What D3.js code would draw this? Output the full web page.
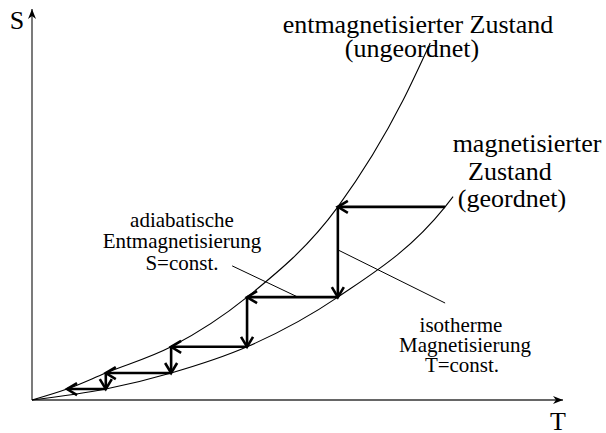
<!DOCTYPE html>
<html>
<head>
<meta charset="utf-8">
<script src="https://cdn.jsdelivr.net/npm/d3@7"></script>
<style>
  body { margin: 0; background: #fff; }
  text { font-family: "Liberation Serif", "Times New Roman", serif; fill: #000; }
</style>
</head>
<body>
<div id="chart"></div>
<script>
// Kurven (T, S in willkürlichen Einheiten 0..100)
var upperCurveT = [0, 6.6, 13.9, 26.2, 40.5, 57.6, 69.9, 75.0];
var upperCurveS = [0, 2.8, 6.9, 13.6, 26.3, 49.4, 76.7, 91.3];
var lowerCurveT = [0, 13.9, 26.2, 40.5, 57.6, 77.8, 79.3];
var lowerCurveS = [0, 2.8, 6.9, 13.6, 26.3, 49.4, 52.0];

// Treppenstufen: S-Niveaus, T am oberen Ende jeder Stufe, Start-T
var stepS = [49.4, 26.3, 13.6, 6.9, 2.8];
var stepUpperT = [57.6, 40.5, 26.2, 13.9, 6.6];
var stepStartT = 77.8;

// Beschriftungen
var labelUpper = ["entmagnetisierter Zustand", "(ungeordnet)"];
var labelLower = ["magnetisierter", "Zustand", "(geordnet)"];
var labelAdiabat = ["adiabatische", "Entmagnetisierung", "S=const."];
var labelIsotherm = ["isotherme", "Magnetisierung", "T=const."];

var width = 606, height = 433;

var svg = d3.select("#chart")
  .append("svg")
  .attr("width", width)
  .attr("height", height);

var x = d3.scaleLinear().domain([0, 100]).range([32, 563]);
var y = d3.scaleLinear().domain([0, 100]).range([400, 9]);

var defs = svg.append("defs");

defs.append("marker")
  .attr("id", "axisHead")
  .attr("viewBox", "-12 -6 14 12")
  .attr("refX", 0)
  .attr("refY", 0)
  .attr("markerWidth", 14)
  .attr("markerHeight", 12)
  .attr("markerUnits", "userSpaceOnUse")
  .attr("orient", "auto")
  .append("path")
  .attr("d", "M0,0 L-10,-4 L-7,0 L-10,4 Z")
  .attr("fill", "#000");

defs.append("marker")
  .attr("id", "stepHead")
  .attr("viewBox", "-14 -9 18 18")
  .attr("refX", 0)
  .attr("refY", 0)
  .attr("markerWidth", 18)
  .attr("markerHeight", 18)
  .attr("markerUnits", "userSpaceOnUse")
  .attr("orient", "auto")
  .append("path")
  .attr("d", "M-10,-6 L0,0 L-10,6")
  .attr("fill", "none")
  .attr("stroke", "#000")
  .attr("stroke-width", 2.6);

// Achsen
svg.append("line")
  .attr("x1", x(0)).attr("y1", y(0))
  .attr("x2", x(100)).attr("y2", y(0))
  .attr("stroke", "#333")
  .attr("stroke-width", 1.3)
  .attr("marker-end", "url(#axisHead)");

svg.append("line")
  .attr("x1", x(0)).attr("y1", y(0))
  .attr("x2", x(0)).attr("y2", y(100))
  .attr("stroke", "#333")
  .attr("stroke-width", 1.3)
  .attr("marker-end", "url(#axisHead)");

svg.append("text")
  .attr("x", 17).attr("y", 29)
  .attr("text-anchor", "middle")
  .attr("font-size", "26px")
  .text("S");

svg.append("text")
  .attr("x", 558).attr("y", 430)
  .attr("text-anchor", "middle")
  .attr("font-size", "26px")
  .text("T");

// Kurven
var line = d3.line()
  .x(function(d) { return x(d[0]); })
  .y(function(d) { return y(d[1]); })
  .curve(d3.curveMonotoneX);

svg.append("path")
  .datum(d3.zip(upperCurveT, upperCurveS))
  .attr("d", line)
  .attr("fill", "none")
  .attr("stroke", "#000")
  .attr("stroke-width", 1.1);

svg.append("path")
  .datum(d3.zip(lowerCurveT, lowerCurveS))
  .attr("d", line)
  .attr("fill", "none")
  .attr("stroke", "#000")
  .attr("stroke-width", 1.1);

// Treppe: waagrecht (S=const.) nach links, senkrecht (T=const.) nach unten
var fromT = stepStartT;
stepS.forEach(function(s, i) {
  var t = stepUpperT[i];
  svg.append("line")
    .attr("x1", x(fromT)).attr("y1", y(s))
    .attr("x2", x(t)).attr("y2", y(s))
    .attr("stroke", "#000")
    .attr("stroke-width", 2.6)
    .attr("marker-end", "url(#stepHead)");
  if (i < stepS.length - 1) {
    svg.append("line")
      .attr("x1", x(t)).attr("y1", y(s))
      .attr("x2", x(t)).attr("y2", y(stepS[i + 1]))
      .attr("stroke", "#000")
      .attr("stroke-width", 2.6)
      .attr("marker-end", "url(#stepHead)");
  }
  fromT = t;
});

// Hinweislinien
svg.append("line")
  .attr("x1", x(37.7)).attr("y1", y(34.3))
  .attr("x2", x(50.1)).attr("y2", y(stepS[1]))
  .attr("stroke", "#000").attr("stroke-width", 1);

svg.append("line")
  .attr("x1", x(stepUpperT[0])).attr("y1", y(38.4))
  .attr("x2", x(77.8)).attr("y2", y(24.8))
  .attr("stroke", "#000").attr("stroke-width", 1);

// Textblöcke
function block(lines, cx, cys, size) {
  lines.forEach(function(t, i) {
    svg.append("text")
      .attr("x", cx[i]).attr("y", cys[i])
      .attr("text-anchor", "middle")
      .attr("font-size", size)
      .text(t);
  });
}

block(labelUpper, [418, 412], [33, 57], "26px");
block(labelLower, [527, 510, 512], [152, 180, 207], "26px");
block(labelAdiabat, [182, 182, 182], [227, 248, 270], "21px");
block(labelIsotherm, [461, 465, 462], [332, 352, 372], "21px");
</script>
</body>
</html>
